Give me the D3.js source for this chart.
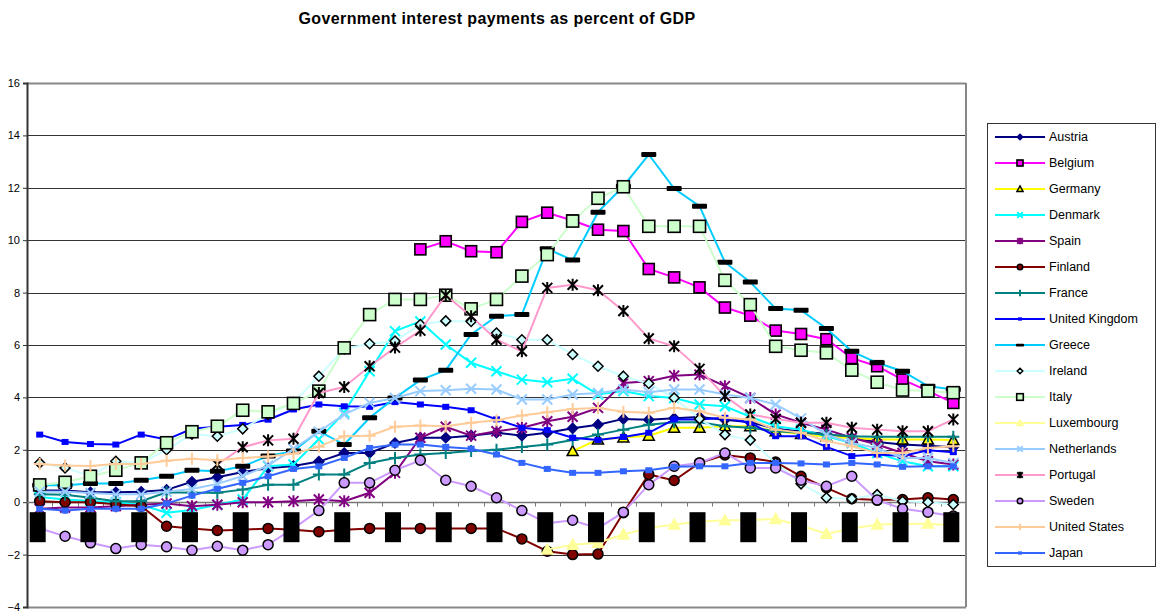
<!doctype html>
<meta charset="utf-8">
<title>Government interest payments</title>
<script src="https://cdn.jsdelivr.net/npm/d3@7/dist/d3.min.js"></script>
<style>
  body { margin: 0; background: #fff; }
  svg { font-family: Arial, "Liberation Sans", sans-serif; }
</style>
<svg id="chart" width="1160" height="614"></svg>
<script>
  // categories (37 years, labels shown every other year)
  const years = d3.range(1970, 2007)
  const yTicks = [-4, -2, 0, 2, 4, 6, 8, 10, 12, 14, 16]
  const _ = null

  // values, percent of GDP
  const austria = [0.45, 0.45, 0.38, 0.38, 0.4, 0.47, 0.78, 0.95, 1.15, 1.3, 1.38, 1.55, 1.88, 1.88, 2.26, 2.46, 2.46, 2.54, 2.65, 2.54, 2.65, 2.82, 2.96, 3.18, 3.15, 3.2, 3.25, 3.15, 3.05, 2.8, 2.7, 2.6, 2.45, 2.3, 2.2, 2.15, 2.1]
  const belgium = [_, _, _, _, _, _, _, _, _, _, _, _, _, _, _, 9.65, 9.96, 9.58, 9.54, 10.7, 11.05, 10.75, 10.4, 10.35, 8.9, 8.58, 8.2, 7.43, 7.12, 6.55, 6.42, 6.22, 5.5, 5.19, 4.68, 4.25, 3.79]
  const germany = [_, _, _, _, _, _, _, _, _, _, _, _, _, _, _, _, _, _, _, _, _, 1.95, 2.39, 2.47, 2.54, 2.84, 2.84, 2.9, 2.9, 2.71, 2.6, 2.5, 2.45, 2.39, 2.39, 2.39, 2.37]
  const denmark = [0.2, 0.1, 0.05, 0.0, -0.1, -0.4, -0.3, -0.1, 0.1, 1.37, 1.44, 2.4, 3.42, 5.0, 6.53, 6.9, 6.02, 5.32, 5.0, 4.68, 4.58, 4.71, 4.11, 4.24, 4.05, 3.98, 3.73, 3.66, 3.26, 2.9, 2.77, 2.52, 2.26, 1.88, 1.56, 1.37, 1.37]
  const spain = [-0.25, -0.2, -0.2, -0.15, -0.1, -0.05, -0.15, -0.1, 0.0, 0.0, 0.04, 0.1, 0.04, 0.36, 1.12, 2.46, 2.88, 2.54, 2.71, 2.84, 3.09, 3.26, 3.6, 4.55, 4.62, 4.83, 4.87, 4.43, 3.98, 3.35, 3.03, 2.77, 2.46, 2.2, 1.88, 1.56, 1.44]
  const finland = [0.04, 0.0, 0.0, -0.08, -0.15, -0.92, -1.0, -1.08, -1.05, -1.0, -1.05, -1.13, -1.05, -1.0, -1.0, -1.0, -1.0, -1.0, -1.0, -1.4, -1.87, -2.0, -1.98, -0.4, 1.06, 0.83, 1.5, 1.8, 1.69, 1.53, 0.99, 0.55, 0.13, 0.08, 0.1, 0.17, 0.1]
  const france = [0.3, 0.28, 0.17, 0.04, 0.04, 0.38, 0.36, 0.36, 0.48, 0.67, 0.67, 1.06, 1.06, 1.5, 1.69, 1.82, 1.88, 1.95, 2.0, 2.11, 2.2, 2.37, 2.58, 2.77, 2.96, 3.05, 3.05, 2.9, 2.84, 2.71, 2.65, 2.58, 2.52, 2.5, 2.5, 2.5, 2.5]
  const unitedKingdom = [2.58, 2.3, 2.22, 2.2, 2.58, 2.39, 2.8, 2.88, 2.95, 3.15, 3.54, 3.73, 3.66, 3.64, 3.82, 3.73, 3.64, 3.51, 3.16, 2.84, 2.75, 2.46, 2.37, 2.49, 2.65, 3.16, 3.16, 3.22, 3.03, 2.52, 2.52, 2.11, 1.76, 1.82, 1.76, 1.98, 1.91]
  const greece = [0.65, 0.65, 0.71, 0.71, 0.84, 0.99, 1.22, 1.18, 1.37, 1.76, 1.95, 2.71, 2.2, 3.22, 3.98, 4.66, 5.04, 6.4, 7.1, 7.16, 9.67, 9.24, 11.07, 12.06, 13.27, 11.97, 11.3, 9.16, 8.4, 7.39, 7.33, 6.63, 5.76, 5.32, 5.0, 4.43, 4.3]
  const ireland = [1.5, 1.31, 1.0, 1.56, 1.5, 2.0, 2.6, 2.52, 2.8, 3.35, 3.8, 4.81, 5.85, 6.05, 6.15, 6.78, 6.92, 6.9, 6.46, 6.2, 6.2, 5.64, 5.19, 4.81, 4.53, 3.98, 3.18, 2.58, 2.37, 1.5, 0.7, 0.17, 0.13, 0.29, 0.04, 0.0, -0.09]
  const italy = [0.66, 0.76, 0.99, 1.22, 1.5, 2.27, 2.69, 2.9, 3.51, 3.45, 3.77, 4.24, 5.89, 7.16, 7.74, 7.74, 7.9, 7.38, 7.74, 8.63, 9.45, 10.73, 11.6, 12.04, 10.53, 10.53, 10.53, 8.47, 7.54, 5.95, 5.8, 5.7, 5.04, 4.58, 4.28, 4.24, 4.18]
  const luxembourg = [_, _, _, _, _, _, _, _, _, _, _, _, _, _, _, _, _, _, _, _, -1.81, -1.62, -1.55, -1.23, -0.98, -0.85, -0.75, -0.69, -0.68, -0.64, -0.9, -1.2, -1.0, -0.85, -0.83, -0.81, -0.9]
  const netherlands = [0.4, 0.4, 0.35, 0.3, 0.3, 0.4, 0.5, 0.7, 1.0, 1.4, 2.04, 2.69, 3.35, 3.79, 3.98, 4.24, 4.27, 4.33, 4.3, 3.92, 3.92, 4.11, 4.17, 4.3, 4.2, 4.3, 4.3, 4.11, 3.98, 3.73, 3.2, 2.58, 2.26, 2.07, 1.69, 1.69, 1.5]
  const portugal = [_, _, _, _, _, _, _, 1.44, 2.1, 2.36, 2.42, 4.17, 4.4, 5.19, 5.9, 6.55, 7.9, 7.1, 6.2, 5.76, 8.18, 8.3, 8.09, 7.3, 6.25, 5.95, 5.09, 4.05, 3.35, 3.18, 3.03, 3.03, 2.84, 2.77, 2.71, 2.71, 3.16]
  const sweden = [-1.0, -1.3, -1.55, -1.77, -1.62, -1.7, -1.83, -1.68, -1.83, -1.62, -1.0, -0.32, 0.74, 0.74, 1.22, 1.6, 0.84, 0.61, 0.17, -0.32, -0.8, -0.69, -1.0, -0.38, 0.67, 1.37, 1.5, 1.88, 1.31, 1.31, 0.84, 0.61, 0.99, 0.08, -0.25, -0.38, -0.53]
  const unitedStates = [1.46, 1.4, 1.38, 1.46, 1.46, 1.58, 1.66, 1.6, 1.69, 1.74, 1.85, 2.12, 2.52, 2.54, 2.88, 2.93, 2.9, 3.03, 3.13, 3.31, 3.43, 3.56, 3.6, 3.45, 3.41, 3.6, 3.47, 3.22, 3.16, 2.77, 2.65, 2.33, 2.14, 1.88, 1.88, 2.07, 2.14]
  const japan = [-0.25, -0.32, -0.25, -0.25, -0.25, -0.05, 0.25, 0.51, 0.74, 0.99, 1.27, 1.37, 1.69, 2.07, 2.2, 2.2, 2.11, 2.04, 1.82, 1.5, 1.27, 1.12, 1.12, 1.18, 1.22, 1.35, 1.37, 1.37, 1.5, 1.5, 1.48, 1.44, 1.5, 1.44, 1.35, 1.37, 1.37]

  const countries = ['Austria', 'Belgium', 'Germany', 'Denmark', 'Spain', 'Finland', 'France', 'United Kingdom', 'Greece', 'Ireland', 'Italy', 'Luxembourg', 'Netherlands', 'Portugal', 'Sweden', 'United States', 'Japan']
  const seriesValues = [austria, belgium, germany, denmark, spain, finland, france, unitedKingdom, greece, ireland, italy, luxembourg, netherlands, portugal, sweden, unitedStates, japan]
  const lineColors = ['#000080', '#ff00ff', '#ffff00', '#00ffff', '#800080', '#800000', '#008080', '#0000ff', '#00ccff', '#ccffff', '#ccffcc', '#ffff99', '#99ccff', '#ff99cc', '#cc99ff', '#ffcc99', '#3366ff']
  const markerKinds = ['diamond', 'square', 'triangle', 'x', 'star', 'circle', 'plus', 'smallSquare', 'bar', 'diamond', 'bigSquare', 'triangle', 'x', 'star', 'circle', 'plus', 'smallSquare']
  const markerFills = ['#000080', '#ff00ff', '#ffff00', 'none', 'none', '#800000', 'none', '#0000ff', '#000', '#ccffff', '#ccffcc', '#ffff99', 'none', 'none', '#cc99ff', 'none', '#3366ff']
  const markerStrokes = ['#000080', '#000', '#000', '#00ffff', '#800080', '#000', '#008080', '#0000ff', '#000', '#000', '#000', '#ffff99', '#99ccff', '#000', '#000', '#ffcc99', '#3366ff']

  const plot = { left: 27, right: 966, top: 83, bottom: 607 }
  const svg = d3.select('#chart')

  const x = d3.scaleBand().domain(years).range([plot.left, plot.right])
  const cx = (d) => x(d) + x.bandwidth() / 2
  const y = d3.scaleLinear().domain([-4, 16]).range([plot.bottom, plot.top])

  // draw one marker at the origin of g, k = size factor
  function drawMarker(g, kind, fill, stroke, k) {
    const p = (d) => g.append('path').attr('d', d).attr('fill', fill).attr('stroke', stroke)
    if (kind === 'diamond') {
      p(`M0,${-5 * k}L${5 * k},0L0,${5 * k}L${-5 * k},0Z`).attr('stroke-width', 1.5)
    } else if (kind === 'square') {
      g.append('rect').attr('x', -5.5 * k).attr('y', -5.5 * k).attr('width', 11 * k).attr('height', 11 * k)
        .attr('fill', fill).attr('stroke', stroke).attr('stroke-width', 1.6)
    } else if (kind === 'bigSquare') {
      g.append('rect').attr('x', -6 * k).attr('y', -6 * k).attr('width', 12 * k).attr('height', 12 * k)
        .attr('fill', fill).attr('stroke', stroke).attr('stroke-width', 1.6)
    } else if (kind === 'triangle') {
      p(`M0,${-5.5 * k}L${5.5 * k},${4.5 * k}L${-5.5 * k},${4.5 * k}Z`).attr('stroke-width', 1.5)
    } else if (kind === 'x') {
      p(`M${-5 * k},${-5 * k}L${5 * k},${5 * k}M${5 * k},${-5 * k}L${-5 * k},${5 * k}`).attr('stroke-width', 2)
    } else if (kind === 'star') {
      p(`M${-5 * k},${-5 * k}L${5 * k},${5 * k}M${5 * k},${-5 * k}L${-5 * k},${5 * k}M0,${-6 * k}V${6 * k}`).attr('stroke-width', 2)
    } else if (kind === 'plus') {
      p(`M${-6 * k},0H${6 * k}M0,${-6 * k}V${6 * k}`).attr('stroke-width', 2)
    } else if (kind === 'circle') {
      g.append('circle').attr('r', 5 * k).attr('fill', fill).attr('stroke', stroke).attr('stroke-width', 1.5)
    } else if (kind === 'smallSquare') {
      g.append('rect').attr('x', -3.5 * k).attr('y', -3 * k).attr('width', 7 * k).attr('height', 6 * k)
        .attr('fill', fill).attr('stroke', 'none')
    } else if (kind === 'bar') {
      g.append('rect').attr('x', -7.5 * k).attr('y', -2.5 * k).attr('width', 15 * k).attr('height', 5 * k)
        .attr('rx', 1).attr('fill', fill)
    }
  }

  // title
  svg.append('text')
    .attr('x', 497).attr('y', 24)
    .attr('text-anchor', 'middle')
    .attr('font-weight', 'bold').attr('font-size', 16)
    .attr('letter-spacing', 0.4)
    .text('Government interest payments as percent of GDP')

  // gridlines
  svg.append('g').selectAll('line')
    .data(yTicks)
    .join('line')
    .attr('x1', plot.left).attr('x2', plot.right)
    .attr('y1', (d) => Math.round(y(d)) + 0.5).attr('y2', (d) => Math.round(y(d)) + 0.5)
    .attr('stroke', (d) => (d === 16 || d === -4 ? '#888' : '#333'))
    .attr('stroke-width', (d) => (d === 16 || d === -4 ? 2 : 1))

  // right border
  svg.append('line')
    .attr('x1', plot.right).attr('x2', plot.right)
    .attr('y1', plot.top).attr('y2', plot.bottom)
    .attr('stroke', '#888').attr('stroke-width', 2)

  // y axis
  const yAxis = svg.append('g')
    .attr('transform', `translate(${plot.left},0)`)
    .call(d3.axisLeft(y).tickValues(yTicks).tickSize(4).tickPadding(3))
  yAxis.select('.domain').attr('stroke', '#333').attr('stroke-width', 2)
  yAxis.selectAll('.tick line').attr('stroke', '#333')
  yAxis.selectAll('text').attr('font-size', 11).attr('fill', '#000').attr('font-family', 'Arial, "Liberation Sans", sans-serif')

  // category axis crossing at zero
  const xAxis = svg.append('g').attr('transform', `translate(0,${Math.round(y(0)) + 0.5})`)
  xAxis.append('line')
    .attr('x1', plot.left).attr('x2', plot.right)
    .attr('stroke', '#777').attr('stroke-width', 1.5)
  xAxis.selectAll('.xtick')
    .data(years.slice(1))
    .join('line')
    .attr('class', 'xtick')
    .attr('x1', (d) => Math.round(x(d)) + 0.5).attr('x2', (d) => Math.round(x(d)) + 0.5)
    .attr('y1', 0).attr('y2', 4)
    .attr('stroke', '#777')

  // series: line then markers
  seriesValues.forEach((vals, s) => {
    const pts = years.map((yr, i) => ({ yr, v: vals[i] }))
    const line = d3.line()
      .defined((d) => d.v !== null)
      .x((d) => cx(d.yr))
      .y((d) => y(d.v))
    svg.append('path')
      .datum(pts)
      .attr('fill', 'none')
      .attr('stroke', lineColors[s])
      .attr('stroke-width', 2)
      .attr('d', line)

    const mg = svg.append('g')
    pts.filter((d) => d.v !== null).forEach((d) => {
      const g = mg.append('g').attr('transform', `translate(${cx(d.yr)},${y(d.v)})`)
      drawMarker(g, markerKinds[s], markerFills[s], markerStrokes[s], 1)
    })
  })

  // category labels (rendered as solid blocks in the source) on every other year
  svg.append('g').selectAll('rect')
    .data(years.filter((d, i) => i % 2 === 0))
    .join('rect')
    .attr('x', (d) => cx(d) - 10)
    .attr('y', y(0) + 10)
    .attr('width', 16)
    .attr('height', 30)
    .attr('fill', '#000')

  // legend
  const legend = svg.append('g')
  legend.append('rect')
    .attr('x', 987.5).attr('y', 123.5)
    .attr('width', 168).attr('height', 443)
    .attr('fill', '#fff').attr('stroke', '#333')
  const ly = d3.scalePoint().domain(countries).range([137, 553])
  countries.forEach((name, s) => {
    const row = legend.append('g').attr('transform', `translate(0,${ly(name)})`)
    row.append('line')
      .attr('x1', 995).attr('x2', 1045)
      .attr('stroke', lineColors[s]).attr('stroke-width', 2)
    drawMarker(row.append('g').attr('transform', 'translate(1020,0)'), markerKinds[s], markerFills[s], markerStrokes[s], 0.55)
    row.append('text')
      .attr('x', 1049).attr('y', 0)
      .attr('dy', '0.35em')
      .attr('font-size', 12.5)
      .text(name)
  })
</script>
